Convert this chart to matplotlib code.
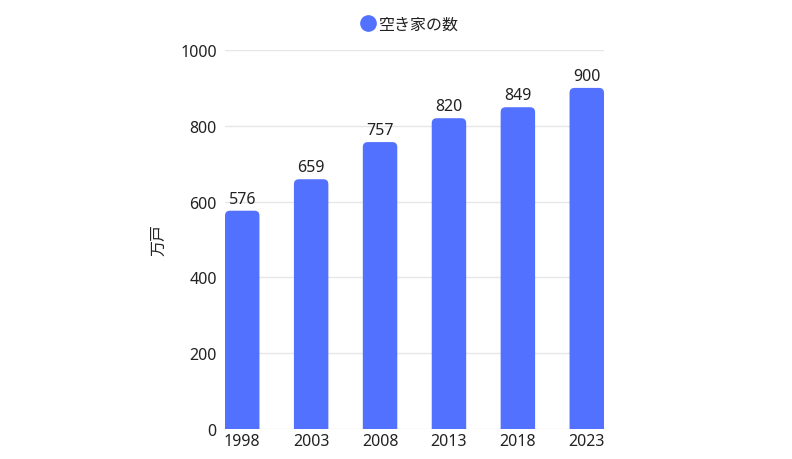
import matplotlib
matplotlib.use("Agg")
import matplotlib.pyplot as plt
from matplotlib.patches import FancyBboxPatch
from matplotlib.lines import Line2D

plt.rcParams['font.family'] = ['Noto Sans', 'Noto Sans CJK JP', 'DejaVu Sans']

years = ["1998", "2003", "2008", "2013", "2018", "2023"]
vacant = [576, 659, 757, 820, 849, 900]
yticks = [0, 200, 400, 600, 800, 1000]

barColor = "#5271ff"
textColor = "#222222"
gridColor = "#e6e6e6"
fs = 11.5

fig = plt.figure(figsize=(7.92, 4.6), dpi=100)
ax = fig.add_axes([225 / 792, 1 - 430 / 460, (604 - 225) / 792, (430 - 51) / 460])

x = list(range(len(years)))
bars = ax.bar(x, vacant, width=0.5, color=barColor, zorder=2)
ax.set_xlim(-0.25, len(years) - 0.75)
ax.set_ylim(0, 1000)

# rounded tops: replace each bar with a FancyBboxPatch
pxX = ax.get_position().width * 792 / (ax.get_xlim()[1] - ax.get_xlim()[0])
pxY = ax.get_position().height * 460 / 1000.
radius = 5.
for b in bars:
    b.set_visible(False)
    bx, bw, bh = b.get_x(), b.get_width(), b.get_height()
    patch = FancyBboxPatch((bx, -30), bw, bh + 30,
                           boxstyle="round,pad=0,rounding_size=%f" % (radius / pxX),
                           mutation_aspect=pxX / pxY,
                           facecolor=barColor, edgecolor="none", zorder=2)
    ax.add_patch(patch)

for xi, v in zip(x, vacant):
    ax.annotate(str(v), (xi, v), xytext=(0, 3), textcoords="offset points",
                ha="center", va="bottom", fontsize=fs, color=textColor)

ax.set_xticks(x)
ax.set_xticklabels(years, fontsize=fs, color=textColor)
ax.set_yticks(yticks)
ax.set_yticklabels([str(t) for t in yticks], fontsize=fs, color=textColor)
ax.tick_params(axis="both", length=0, pad=6)
ax.tick_params(axis="x", pad=3)
ax.grid(axis="y", color=gridColor, linewidth=1, zorder=0)
for s in ax.spines.values():
    s.set_visible(False)
ax.set_ylabel("万戸", fontsize=fs, color=textColor, labelpad=9)

handle = Line2D([], [], marker="o", linestyle="none", markersize=11,
                markerfacecolor=barColor, markeredgecolor=barColor)
fig.legend([handle], ["空き家の数"], loc="center", bbox_to_anchor=(409 / 792, 1 - 26 / 460),
           frameon=False, fontsize=fs, handletextpad=0.1, handlelength=1,
           labelcolor=textColor)

fig.savefig("out.png", dpi=100)
